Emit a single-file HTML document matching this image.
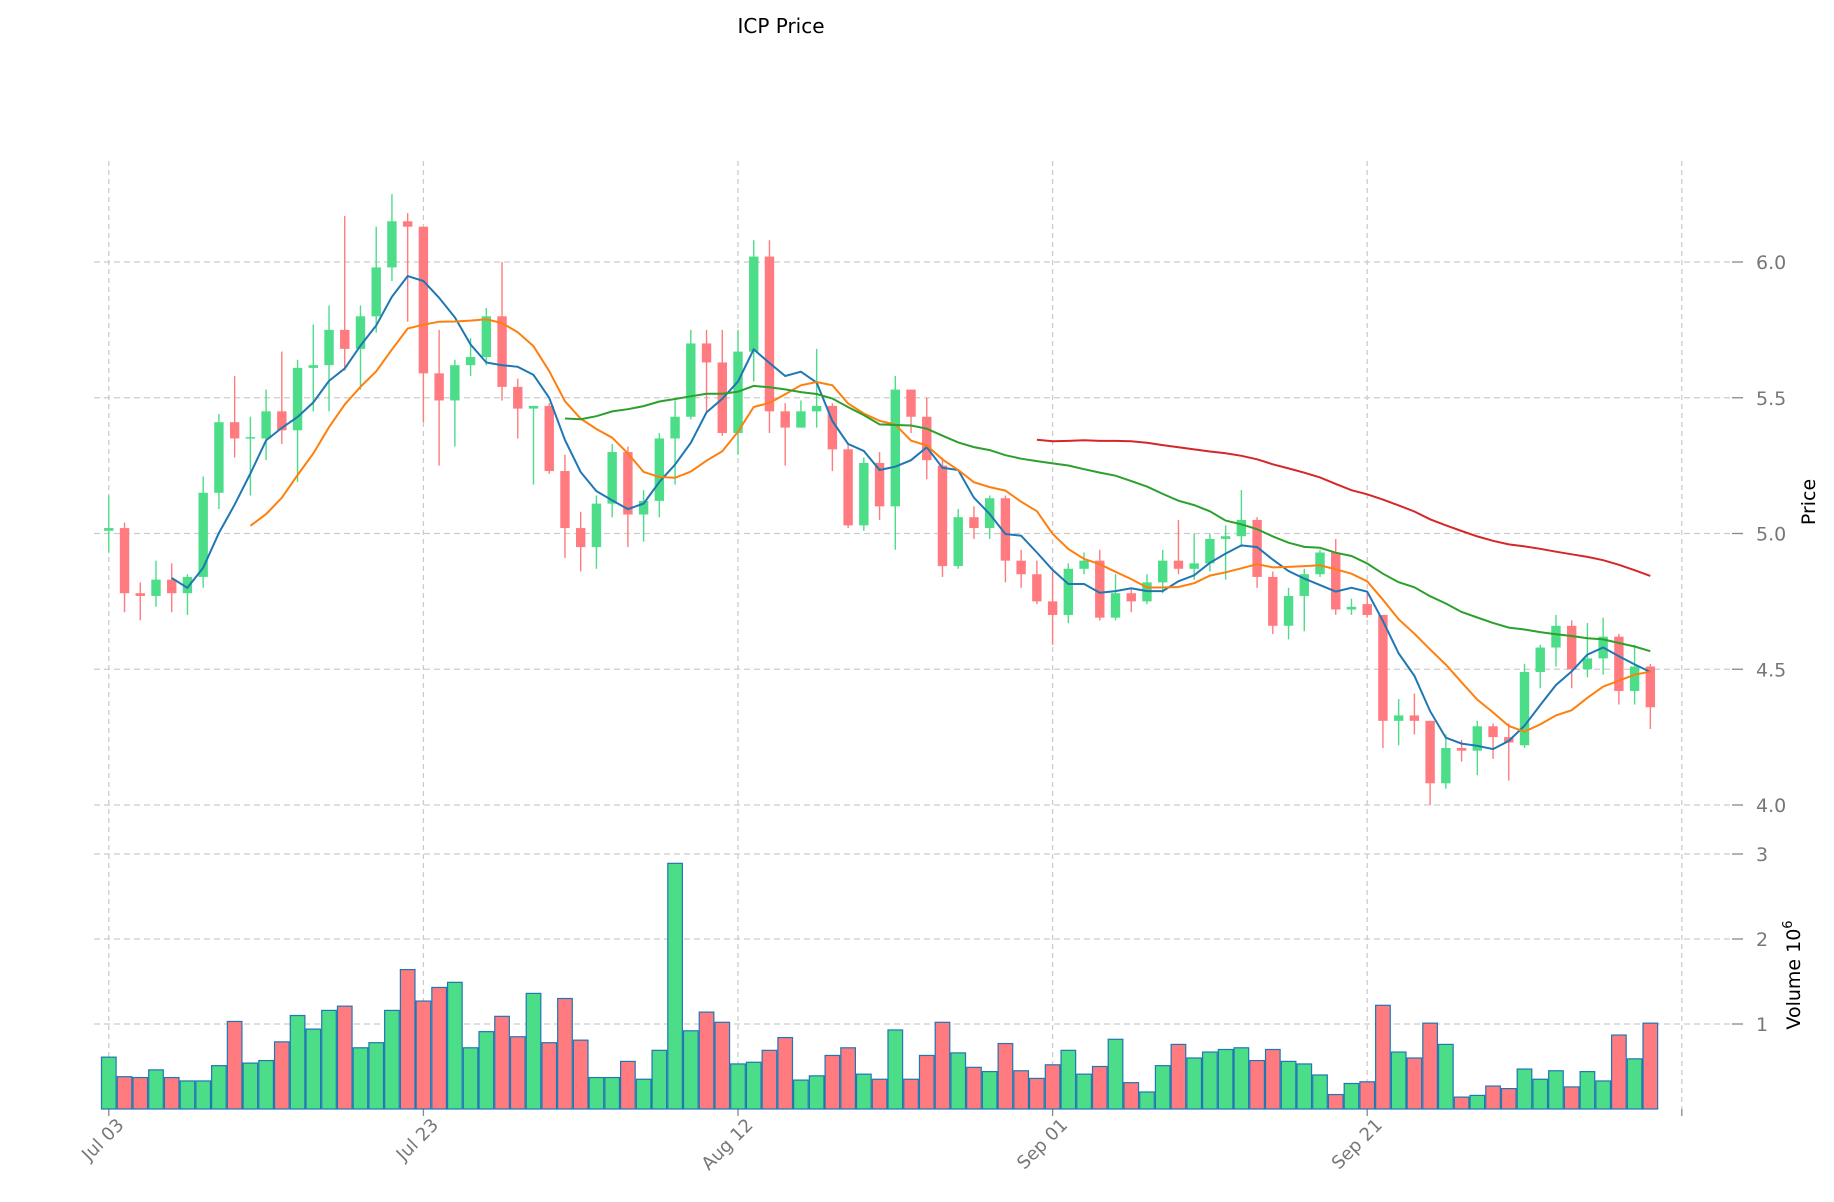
<!DOCTYPE html>
<html><head><meta charset="utf-8"><style>
body{margin:0;background:#fff;}
svg{display:block;font-family:"DejaVu Sans","Liberation Sans",sans-serif;}
</style></head><body>
<svg id="s" width="1834" height="1202" viewBox="0 0 1834 1202" xmlns="http://www.w3.org/2000/svg">
<text x="781" y="33" font-size="20" text-anchor="middle" fill="#000">ICP Price</text>
</svg>
<script>
const D=[[5.01,5.02,5.14,4.93],[5.02,4.78,5.04,4.71],[4.78,4.77,4.82,4.68],[4.77,4.83,4.90,4.73],[4.83,4.78,4.89,4.71],[4.78,4.84,4.85,4.70],[4.84,5.15,5.21,4.80],[5.15,5.41,5.44,5.09],[5.41,5.35,5.58,5.28],[5.35,5.355,5.43,5.14],[5.35,5.45,5.53,5.27],[5.45,5.38,5.67,5.33],[5.38,5.61,5.64,5.19],[5.61,5.62,5.77,5.45],[5.62,5.75,5.84,5.45],[5.75,5.68,6.17,5.60],[5.68,5.80,5.84,5.53],[5.80,5.98,6.13,5.74],[5.98,6.15,6.25,5.93],[6.15,6.13,6.18,5.78],[6.13,5.59,6.13,5.41],[5.59,5.49,5.75,5.25],[5.49,5.62,5.64,5.32],[5.62,5.65,5.72,5.58],[5.65,5.80,5.83,5.62],[5.80,5.54,6.00,5.49],[5.54,5.46,5.57,5.35],[5.46,5.47,5.47,5.18],[5.47,5.23,5.48,5.22],[5.23,5.02,5.29,4.91],[5.02,4.95,5.08,4.86],[4.95,5.11,5.14,4.87],[5.11,5.30,5.33,5.06],[5.30,5.07,5.32,4.95],[5.07,5.12,5.16,4.97],[5.12,5.35,5.37,5.06],[5.35,5.43,5.49,5.18],[5.43,5.70,5.75,5.42],[5.70,5.63,5.75,5.45],[5.63,5.37,5.75,5.36],[5.37,5.67,5.75,5.29],[5.67,6.02,6.08,5.56],[6.02,5.45,6.08,5.37],[5.45,5.39,5.48,5.25],[5.39,5.45,5.49,5.39],[5.45,5.47,5.68,5.39],[5.47,5.31,5.48,5.23],[5.31,5.03,5.33,5.02],[5.03,5.26,5.28,5.01],[5.26,5.10,5.30,5.05],[5.10,5.53,5.58,4.94],[5.53,5.43,5.53,5.37],[5.43,5.27,5.50,5.20],[5.25,4.88,5.28,4.84],[4.88,5.06,5.09,4.87],[5.06,5.02,5.10,4.98],[5.02,5.13,5.14,4.98],[5.13,4.90,5.14,4.82],[4.90,4.85,4.94,4.80],[4.85,4.75,4.90,4.74],[4.75,4.70,4.86,4.59],[4.70,4.87,4.89,4.67],[4.87,4.90,4.93,4.85],[4.90,4.69,4.94,4.68],[4.69,4.78,4.85,4.68],[4.78,4.75,4.80,4.71],[4.75,4.82,4.85,4.74],[4.82,4.90,4.94,4.78],[4.90,4.87,5.05,4.85],[4.87,4.89,5.00,4.83],[4.89,4.98,5.00,4.86],[4.98,4.99,5.03,4.83],[4.99,5.05,5.16,4.95],[5.05,4.84,5.06,4.80],[4.84,4.66,4.86,4.63],[4.66,4.77,4.80,4.61],[4.77,4.85,4.87,4.64],[4.85,4.93,4.94,4.84],[4.93,4.72,4.98,4.70],[4.72,4.73,4.76,4.70],[4.74,4.70,4.78,4.69],[4.70,4.31,4.70,4.21],[4.31,4.33,4.39,4.22],[4.33,4.31,4.41,4.26],[4.31,4.08,4.31,4.00],[4.08,4.21,4.26,4.06],[4.21,4.20,4.24,4.16],[4.20,4.29,4.31,4.11],[4.29,4.25,4.30,4.17],[4.25,4.23,4.30,4.09],[4.22,4.49,4.52,4.21],[4.49,4.58,4.59,4.43],[4.58,4.66,4.70,4.51],[4.66,4.50,4.68,4.43],[4.50,4.54,4.67,4.47],[4.54,4.62,4.69,4.48],[4.62,4.42,4.63,4.37],[4.42,4.51,4.59,4.37],[4.51,4.36,4.52,4.28]];
const V=[0.55,0.32,0.31,0.40,0.31,0.27,0.27,0.45,0.97,0.48,0.51,0.73,1.04,0.88,1.10,1.15,0.66,0.72,1.10,1.58,1.21,1.37,1.43,0.66,0.85,1.03,0.79,1.30,0.72,1.24,0.75,0.31,0.31,0.50,0.29,0.63,2.83,0.86,1.08,0.96,0.47,0.49,0.63,0.78,0.28,0.33,0.57,0.66,0.35,0.29,0.87,0.29,0.57,0.96,0.60,0.43,0.38,0.71,0.39,0.30,0.46,0.63,0.35,0.44,0.76,0.25,0.14,0.45,0.70,0.54,0.61,0.64,0.66,0.51,0.64,0.50,0.47,0.34,0.11,0.24,0.26,1.16,0.61,0.54,0.95,0.70,0.08,0.10,0.21,0.18,0.41,0.29,0.39,0.20,0.38,0.27,0.81,0.53,0.95].map(v=>v+0.06);
const X=i=>108.8+i*15.73, PY=p=>262+(6-p)*271.5, VY=v=>1109-v*85;
let h='';
const G='#cccccc';
[0,20,40,60,80,100].forEach(i=>{h+=`<line x1="${X(i)}" y1="161" x2="${X(i)}" y2="1109" stroke="${G}" stroke-width="1.3" stroke-dasharray="5,4"/>`;});
[6,5.5,5,4.5,4].forEach(p=>{const y=PY(p);h+=`<line x1="94" y1="${y}" x2="1732" y2="${y}" stroke="${G}" stroke-width="1.3" stroke-dasharray="6,4"/><line x1="1732" y1="${y}" x2="1743" y2="${y}" stroke="#888" stroke-width="1.3"/><text x="1756" y="${y+7}" font-size="19" fill="#777">${p.toFixed(1)}</text>`;});
[3,2,1].forEach(v=>{const y=VY(v);h+=`<line x1="94" y1="${y}" x2="1732" y2="${y}" stroke="${G}" stroke-width="1.3" stroke-dasharray="6,4"/><line x1="1732" y1="${y}" x2="1743" y2="${y}" stroke="#888" stroke-width="1.3"/><text x="1756" y="${y+7}" font-size="19" fill="#777">${v}</text>`;});
h+=`<text transform="translate(1815,502) rotate(-90)" font-size="19" text-anchor="middle" fill="#000">Price</text>`;
h+=`<text transform="translate(1800,975) rotate(-90)" font-size="19" text-anchor="middle" fill="#000">Volume  10<tspan dy="-8" font-size="13">6</tspan></text>`;
const lab=['Jul 03','Jul 23','Aug 12','Sep 01','Sep 21'];
[0,20,40,60,80,100].forEach((i,k)=>{const x=X(i);h+=`<line x1="${x}" y1="1109" x2="${x}" y2="1116" stroke="#888" stroke-width="1.3"/>`;if(k<5)h+=`<text transform="translate(${x+16},1126) rotate(-45)" font-size="18" text-anchor="end" fill="#777">${lab[k]}</text>`;});
V.forEach((v,i)=>{const up=D[i][1]>=D[i][0];const x=X(i)-7.3;h+=`<rect x="${x}" y="${VY(v)}" width="14.6" height="${v*85}" fill="${up?'#4cdd88':'#ff7b80'}" stroke="#1f77b4" stroke-width="1.2"/>`;});
D.forEach((d,i)=>{const [o,c,hi,lo]=d;const up=c>=o;const col=up?'#4cdd88':'#ff7b80';const x=X(i);h+=`<line x1="${x}" y1="${PY(hi)}" x2="${x}" y2="${PY(lo)}" stroke="${col}" stroke-width="1.4"/>`;const t=PY(Math.max(o,c)),b=PY(Math.min(o,c));h+=`<rect x="${x-4.7}" y="${t}" width="9.4" height="${Math.max(b-t,1.5)}" fill="${col}"/>`;});
function ma(n,col){let pts=[];for(let i=n-1;i<D.length;i++){let s=0;for(let j=i-n+1;j<=i;j++)s+=D[j][1];pts.push(X(i).toFixed(1)+','+PY(s/n).toFixed(1));}h+=`<polyline points="${pts.join(' ')}" fill="none" stroke="${col}" stroke-width="2"/>`;}
ma(5,'#1f77b4');ma(10,'#ff7f0e');ma(30,'#2ca02c');ma(60,'#d62728');
document.getElementById('s').insertAdjacentHTML('beforeend',h);
</script>
</body></html>
